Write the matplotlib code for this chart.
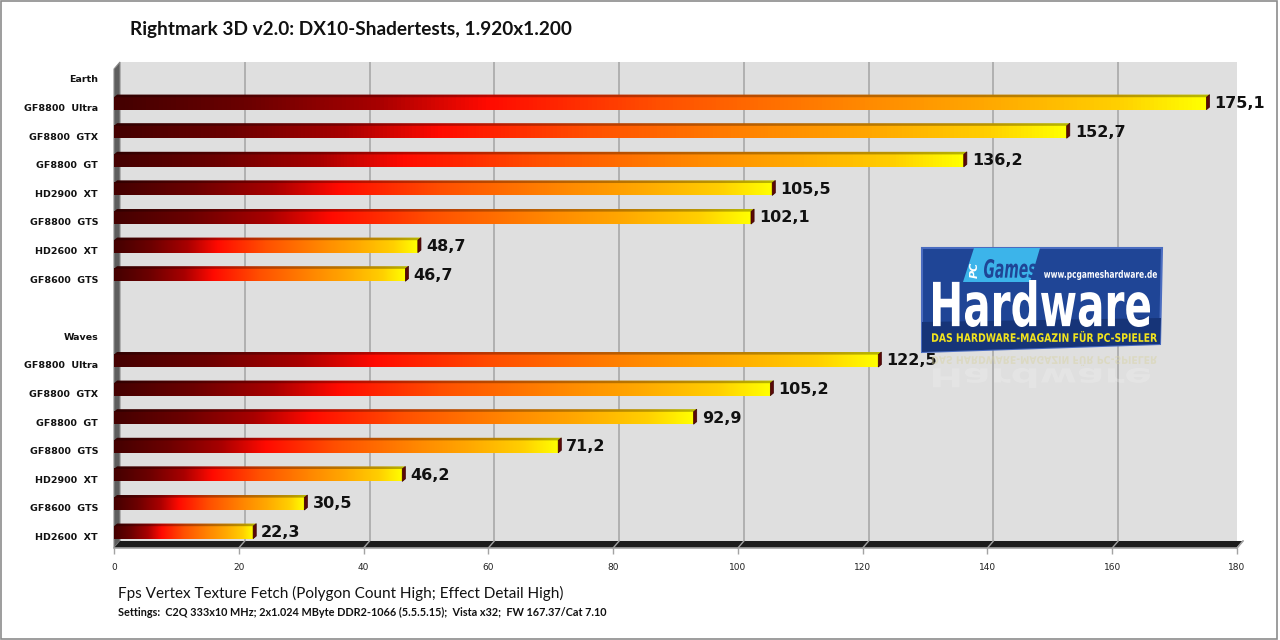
import numpy as np
import matplotlib
matplotlib.use("Agg")
import matplotlib.pyplot as plt
from matplotlib.colors import LinearSegmentedColormap
from matplotlib.patches import Polygon, Rectangle, PathPatch
from matplotlib.textpath import TextPath
from matplotlib.font_manager import FontProperties
from matplotlib.transforms import Affine2D

# data (fps)
earth_cards = ["GF8800  Ultra", "GF8800  GTX", "GF8800  GT", "HD2900  XT",
               "GF8800  GTS", "HD2600  XT", "GF8600  GTS"]
earth_fps = [175.1, 152.7, 136.2, 105.5, 102.1, 48.7, 46.7]
waves_cards = ["GF8800  Ultra", "GF8800  GTX", "GF8800  GT", "GF8800  GTS",
               "HD2900  XT", "GF8600  GTS", "HD2600  XT"]
waves_fps = [122.5, 105.2, 92.9, 71.2, 46.2, 30.5, 22.3]
x_ticks = [0, 20, 40, 60, 80, 100, 120, 140, 160, 180]

title = "Rightmark 3D v2.0: DX10-Shadertests, 1.920x1.200"
x_title = "Fps Vertex Texture Fetch (Polygon Count High; Effect Detail High)"
settings = ("Settings:  C2Q 333x10 MHz; 2x1.024 MByte DDR2-1066 (5.5.5.15);  "
            "Vista x32;  FW 167.37/Cat 7.10")

row_labels = ["Earth"] + earth_cards + ["", "Waves"] + waves_cards
bar_rows = list(range(1, 1 + len(earth_fps))) + \
    list(range(len(earth_fps) + 3, len(row_labels)))
bar_vals = earth_fps + waves_fps

W, H = 1280, 640
fig = plt.figure(figsize=(12.8, 6.4), dpi=100)
fig.patch.set_facecolor("white")
fig.patches.append(Rectangle((0.001, 0.002), 0.997, 0.996, transform=fig.transFigure,
                             fill=False, ec="#8c8c8c", lw=1.2))

# main plot: x=0 at px 114, x=180 at px 1237, wall top 62, floor front 548
ax = fig.add_axes([114 / W, 1 - 548 / H, 1123 / W, (548 - 62) / H])
y_top, y_floor = -0.594, 16.40
DX, DY = 0.96, 0.245          # depth offset of the back wall
floor_back = y_floor - DY

ax.add_patch(Rectangle((DX, y_top), 180, floor_back - y_top, fc="#dfdfdf",
                       ec="none", zorder=0))
for t in x_ticks[1:]:
    ax.plot([t + DX, t + DX], [y_top, floor_back], color="#a3a3a3", lw=1.1, zorder=1)
    ax.plot([t, t + DX], [y_floor, floor_back], color="#a3a3a3", lw=1.0, zorder=2,
            clip_on=False)
ax.add_patch(Polygon([(0, y_floor), (0, y_top + DY), (DX, y_top), (DX, floor_back)],
                     closed=True, fc="#5e5e5e", ec="#8a8a8a", lw=0.8, zorder=1,
                     clip_on=False))
ax.add_patch(Polygon([(0, y_floor), (180, y_floor), (180 + DX, floor_back),
                      (DX, floor_back)], closed=True, fc="#1c1c1c", ec="none",
                     zorder=1, clip_on=False))
ax.plot([0, 180], [y_floor, y_floor], color="#a3a3a3", lw=1.2, zorder=2, clip_on=False)
ax.plot([180, 180 + DX], [y_floor, floor_back], color="#a3a3a3", lw=1.0, zorder=2,
        clip_on=False)

cmap = LinearSegmentedColormap.from_list("fire", [
    (0.0, "#440000"), (0.12, "#6c0000"), (0.24, "#a80000"), (0.34, "#ff0a00"),
    (0.5, "#ff5000"), (0.69, "#ff8a00"), (0.8, "#ffa800"), (0.92, "#ffcf00"),
    (1.0, "#ffff00")])
grad = np.linspace(0, 1, 256).reshape(1, -1)

bar_h = 0.525
bdx, tdy = 0.5, 0.09
for row, v in zip(bar_rows, bar_vals):
    yc = row - 0.19
    yt, yb = yc - bar_h / 2, yc + bar_h / 2
    ax.imshow(grad, extent=[0, v, yb, yt + tdy], cmap=cmap, aspect="auto",
              interpolation="bilinear", zorder=3)
    top = Polygon([(0, yt + tdy), (v, yt + tdy), (v + bdx, yt), (bdx, yt)],
                  closed=True, fc="none", ec="none")
    ax.add_patch(top)
    im = ax.imshow(grad, extent=[0, v + bdx, yt + tdy, yt], cmap=cmap, aspect="auto",
                   interpolation="bilinear", zorder=3)
    im.set_clip_path(top)
    ax.add_patch(Polygon([(0, yt + tdy), (v, yt + tdy), (v + bdx, yt), (bdx, yt)],
                         closed=True, fc="black", alpha=0.28, ec="none", zorder=3.5))
    ax.add_patch(Polygon([(v, yt + tdy), (v + bdx, yt), (v + bdx, yb - tdy), (v, yb)],
                         closed=True, fc="#5a0808", ec="#3a0000", lw=0.5, zorder=3.6))
    ax.text(v + 1.3, yc + 0.05, f"{v:.1f}".replace(".", ","), ha="left", va="center",
            fontsize=11.5, fontweight="bold", family="DejaVu Sans", color="#111111",
            zorder=4)

ax.set_xlim(0, 180)
ax.set_ylim(y_floor, y_top)
ax.set_aspect("auto")
for s in ax.spines.values():
    s.set_visible(False)
ax.set_xticks(x_ticks)
ax.set_xticklabels([str(t) for t in x_ticks])
ax.tick_params(axis="x", direction="out", length=4, width=1, color="#a3a3a3",
               pad=7, labelsize=6.5, labelcolor="#222222")
ax.set_yticks(range(len(row_labels)))
ax.set_yticklabels(row_labels)
ax.tick_params(axis="y", length=0, pad=11.5, labelsize=6.8, labelcolor="#111111")
for lbl in ax.get_yticklabels():
    lbl.set_fontweight("bold")

fig.text(130 / W, 1 - 30 / H, title, ha="left", va="center", fontsize=13.7,
         family="Lato", fontweight="bold", color="#111111")
fig.text(118 / W, 1 - 593 / H, x_title, ha="left", va="center", fontsize=11,
         family="Lato", color="#111111")
fig.text(118 / W, 1 - 612 / H, settings, ha="left", va="center", fontsize=7.8,
         family="Lato", fontweight="bold", color="#111111")

# PC Games Hardware logo (image px coordinates, y downwards)
lg = fig.add_axes([912 / W, 1 - 390 / H, 262 / W, 150 / H], zorder=5)
lg.set_xlim(912, 1174)
lg.set_ylim(390, 240)
lg.axis("off")


def fit_text(s, x0, y0, x1, y1, color, prop, mirror=False, alpha=1.0):
    tp = TextPath((0, 0), s, size=1, prop=prop)
    bb = tp.get_extents()
    sx, sy = (x1 - x0) / bb.width, (y1 - y0) / bb.height
    tr = Affine2D().translate(-bb.x0, -bb.y0)
    if mirror:
        tr = tr.scale(sx, sy).translate(x0, y0)
    else:
        tr = tr.scale(sx, -sy).translate(x0, y1)
    lg.add_patch(PathPatch(tr.transform_path(tp), fc=color, ec="none", alpha=alpha,
                           zorder=6))


bold = FontProperties(family="DejaVu Sans", weight="bold")
cond = FontProperties(family="DejaVu Sans", weight="bold", stretch="condensed")
ital = FontProperties(family="DejaVu Sans", weight="bold", style="italic")

# faint mirror image below the logo
fit_text("DAS HARDWARE-MAGAZIN FÜR PC-SPIELER", 932, 356, 1157, 366, "#d8d2a0",
         bold, mirror=True, alpha=0.45)
fit_text("Hardware", 933, 368, 1150, 388, "#f2f2f2", cond, mirror=True, alpha=0.3)

lg.add_patch(Polygon([(922, 248), (1162, 248), (1160, 344), (922, 352)], closed=True,
                     fc="#1f4596", ec="#4a6cc0", lw=1.5, zorder=5))
lg.add_patch(Polygon([(922, 322), (1161, 318), (1160, 344), (922, 352)], closed=True,
                     fc="#163478", ec="none", zorder=5))
lg.add_patch(Polygon([(974, 248), (1040, 248), (1030, 282), (963, 282)], closed=True,
                     fc="#3cb4ea", ec="none", zorder=5))
fit_text("Games", 984, 259, 1036, 278, "#1f4596", ital)
lg.text(975, 270, "PC", rotation=90, ha="center", va="center", fontsize=8,
        fontweight="bold", style="italic", color="white", zorder=6)
fit_text("www.pcgameshardware.de", 1044, 270, 1157, 280, "white", bold)
fit_text("Hardware", 933, 280, 1150, 327, "white", cond)
fit_text("DAS HARDWARE-MAGAZIN FÜR PC-SPIELER", 932, 331, 1157, 342, "#f2e41e", bold)

fig.savefig("out.png", dpi=100)
